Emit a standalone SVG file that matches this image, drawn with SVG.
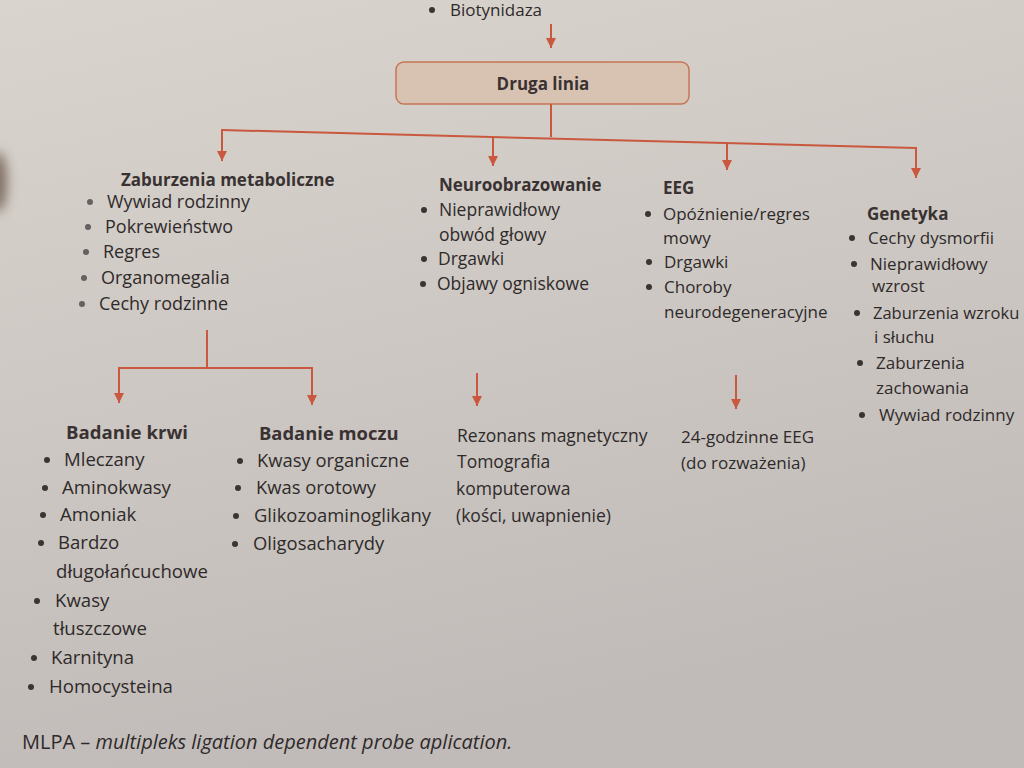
<svg xmlns="http://www.w3.org/2000/svg" width="1024" height="768" viewBox="0 0 1024 768">
<defs>
<linearGradient id="bg" x1="0" y1="0" x2="0.3" y2="1">
<stop offset="0" stop-color="#d9d4cd"/>
<stop offset="0.5" stop-color="#cdc8c3"/>
<stop offset="1" stop-color="#c0bbb8"/>
</linearGradient>
<filter id="blur" x="-2" y="-2" width="5" height="5">
<feGaussianBlur stdDeviation="6"/>
</filter>
<marker id="ah" viewBox="0 0 10 10" refX="10" refY="5" markerWidth="10" markerHeight="10" markerUnits="userSpaceOnUse" orient="auto">
<path d="M0,0 L10,5 L0,10 Z" fill="#c9583f"/>
</marker>
</defs>
<style>
text{font-family:"Open Sans","Liberation Sans",sans-serif;font-size:17px;fill:#2f2a2a}
.h{font-weight:bold;fill:#3a3232}
.b{fill:#3a3535}
.g{fill:#666060}
.ln{stroke:#c9583f;stroke-width:2;fill:none}
.arr{stroke:#c9583f;stroke-width:2;fill:none;marker-end:url(#ah)}
#zaburzenia-metaboliczne text{font-size:18px}
#zaburzenia-metaboliczne text.h{font-size:17px}
#badanie-krwi text{font-size:18.6px}
#badanie-moczu text{font-size:18.4px}
#neuroobrazowanie text,#obrazowanie-badania text{font-size:17.5px}
#neuroobrazowanie text.h{font-size:17px}
</style>
<rect width="1024" height="768" fill="url(#bg)"/>
<ellipse cx="-2" cy="182" rx="9" ry="30" fill="#6b5648" opacity="0.8" filter="url(#blur)"/>

<g id="top-item">
<circle cx="432" cy="10" r="3" class="b"/>
<text x="450" y="16">Biotynidaza</text>
</g>

<g id="druga-linia">
<rect x="396" y="62" width="293" height="42" rx="8" fill="#d8c3b2" stroke="#c77656" stroke-width="1.5"/>
<text x="543" y="90" text-anchor="middle" class="h">Druga linia</text>
</g>

<g id="connectors">
<line x1="551" y1="24" x2="551" y2="48" class="arr"/>
<line x1="551" y1="104" x2="551" y2="137" class="ln"/>
<polyline points="222,130 916,148" class="ln"/>
<line x1="222" y1="129" x2="222" y2="161" class="arr"/>
<line x1="493" y1="137" x2="493" y2="166" class="arr"/>
<line x1="727" y1="143" x2="727" y2="170" class="arr"/>
<line x1="916" y1="147" x2="916" y2="178" class="arr"/>
<line x1="207" y1="330" x2="207" y2="368" class="ln"/>
<line x1="118" y1="368" x2="313" y2="368" class="ln"/>
<line x1="119" y1="367" x2="119" y2="403" class="arr"/>
<line x1="312" y1="367" x2="312" y2="405" class="arr"/>
<line x1="477" y1="373" x2="477" y2="406" class="arr"/>
<line x1="736" y1="375" x2="736" y2="409" class="arr"/>
</g>

<g id="zaburzenia-metaboliczne">
<text x="121" y="186" class="h">Zaburzenia metaboliczne</text>
<circle cx="90" cy="202" r="3" class="g"/><text x="107" y="208">Wywiad rodzinny</text>
<circle cx="88" cy="227" r="3" class="g"/><text x="105" y="233">Pokrewieństwo</text>
<circle cx="86" cy="252" r="3" class="g"/><text x="103" y="258">Regres</text>
<circle cx="84" cy="278" r="3" class="g"/><text x="101" y="284">Organomegalia</text>
<circle cx="82" cy="304" r="3" class="g"/><text x="99" y="310">Cechy rodzinne</text>
</g>

<g id="neuroobrazowanie">
<text x="439" y="191" class="h">Neuroobrazowanie</text>
<circle cx="424" cy="210" r="3" class="b"/><text x="439" y="216">Nieprawidłowy</text>
<text x="439" y="241">obwód głowy</text>
<circle cx="424" cy="259" r="3" class="b"/><text x="438" y="265">Drgawki</text>
<circle cx="423" cy="284" r="3" class="b"/><text x="437" y="290">Objawy ogniskowe</text>
</g>

<g id="eeg">
<text x="663" y="194" class="h">EEG</text>
<circle cx="648" cy="214" r="3" class="b"/><text x="663" y="220">Opóźnienie/regres</text>
<text x="663" y="244">mowy</text>
<circle cx="649" cy="262" r="3" class="b"/><text x="664" y="268">Drgawki</text>
<circle cx="649" cy="287" r="3" class="b"/><text x="664" y="293">Choroby</text>
<text x="664" y="318">neurodegeneracyjne</text>
</g>

<g id="genetyka">
<text x="867" y="220" class="h">Genetyka</text>
<circle cx="852" cy="238" r="3" class="b"/><text x="868" y="244">Cechy dysmorfii</text>
<circle cx="854" cy="264" r="3" class="b"/><text x="870" y="270">Nieprawidłowy</text>
<text x="872" y="292">wzrost</text>
<circle cx="857" cy="313" r="3" class="b"/><text x="873" y="319" style="font-size:16.5px">Zaburzenia wzroku</text>
<text x="874" y="343">i słuchu</text>
<circle cx="860" cy="363" r="3" class="b"/><text x="876" y="369">Zaburzenia</text>
<text x="876" y="394">zachowania</text>
<circle cx="862" cy="415" r="3" class="b"/><text x="879" y="421">Wywiad rodzinny</text>
</g>

<g id="badanie-krwi">
<text x="66" y="439" class="h">Badanie krwi</text>
<circle cx="47" cy="460" r="3" class="b"/><text x="64" y="466">Mleczany</text>
<circle cx="45" cy="488" r="3" class="b"/><text x="62" y="494">Aminokwasy</text>
<circle cx="43" cy="515" r="3" class="b"/><text x="60" y="521">Amoniak</text>
<circle cx="41" cy="543" r="3" class="b"/><text x="58" y="549">Bardzo</text>
<text x="56" y="578">długołańcuchowe</text>
<circle cx="37" cy="601" r="3" class="b"/><text x="55" y="607">Kwasy</text>
<text x="53" y="635">tłuszczowe</text>
<circle cx="34" cy="658" r="3" class="b"/><text x="51" y="664">Karnityna</text>
<circle cx="31" cy="687" r="3" class="b"/><text x="49" y="693">Homocysteina</text>
</g>

<g id="badanie-moczu">
<text x="259" y="440" class="h">Badanie moczu</text>
<circle cx="240" cy="461" r="3" class="b"/><text x="257" y="467">Kwasy organiczne</text>
<circle cx="238" cy="488" r="3" class="b"/><text x="256" y="494">Kwas orotowy</text>
<circle cx="236" cy="516" r="3" class="b"/><text x="254" y="522">Glikozoaminoglikany</text>
<circle cx="235" cy="544" r="3" class="b"/><text x="253" y="550">Oligosacharydy</text>
</g>

<g id="obrazowanie-badania">
<text x="457" y="442">Rezonans magnetyczny</text>
<text x="457" y="468">Tomografia</text>
<text x="456" y="495">komputerowa</text>
<text x="456" y="522">(kości, uwapnienie)</text>
</g>

<g id="eeg-badanie">
<text x="681" y="443">24-godzinne EEG</text>
<text x="681" y="469">(do rozważenia)</text>
</g>

<g id="footnote">
<text x="22" y="749" style="font-size:20px">MLPA – <tspan font-style="italic">multipleks ligation dependent probe aplication.</tspan></text>
</g>
</svg>
